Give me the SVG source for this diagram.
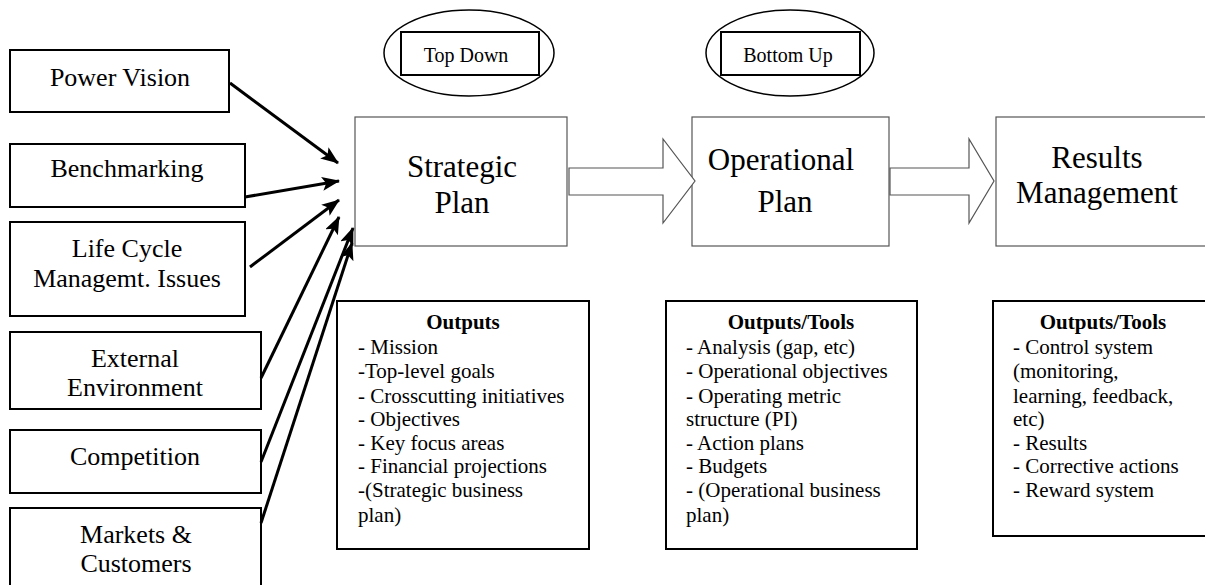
<svg xmlns="http://www.w3.org/2000/svg" width="1205" height="585" viewBox="0 0 1205 585" font-family="'Liberation Serif', Tinos, 'Times New Roman', 'DejaVu Serif', serif">
<style>
text{font-family:'Liberation Serif',Tinos,'Times New Roman','DejaVu Serif',serif;fill:#000}
.src{fill:#fff;stroke:#000;stroke-width:2}
.big{fill:#fff;stroke:#555;stroke-width:1.2}
.out{fill:#fff;stroke:#000;stroke-width:2}
.lbl{font-size:26px;text-anchor:middle}
.ttl{font-size:31px;text-anchor:middle}
.tag{font-size:20px;text-anchor:middle}
.lst{font-size:21px}
.hd{font-size:21px;font-weight:bold;text-anchor:middle}
.arr{fill:none;stroke:#000;stroke-width:3}
.blk{fill:#fff;stroke:#555;stroke-width:1.2}
</style>
<defs>
<marker id="ah" markerUnits="userSpaceOnUse" markerWidth="20" markerHeight="16" refX="17" refY="7" orient="auto">
<path d="M0,0 L18,7 L0,14 L4,7 z" fill="#000"/>
</marker>
</defs>
<rect width="1205" height="585" fill="#fff"/>

<g id="power-vision"><rect class="src" x="10" y="50" width="219" height="62"/><text class="lbl" x="120" y="86">Power Vision</text></g>
<g id="benchmarking"><rect class="src" x="10" y="144" width="235" height="63"/><text class="lbl" x="127" y="177">Benchmarking</text></g>
<g id="life-cycle"><rect class="src" x="10" y="222" width="235" height="94"/><text class="lbl" x="127" y="257">Life Cycle</text><text class="lbl" x="127" y="287">Managemt. Issues</text></g>
<g id="external-environment"><rect class="src" x="10" y="332" width="251" height="77"/><text class="lbl" x="135" y="367">External</text><text class="lbl" x="135" y="396">Environment</text></g>
<g id="competition"><rect class="src" x="10" y="430" width="251" height="63"/><text class="lbl" x="135" y="465">Competition</text></g>
<g id="markets-customers"><rect class="src" x="10" y="508" width="251" height="90"/><text class="lbl" x="136" y="543">Markets &amp;</text><text class="lbl" x="136" y="572">Customers</text></g>

<g id="top-down"><ellipse cx="469" cy="53" rx="85" ry="43" fill="#fff" stroke="#000" stroke-width="1.5"/><rect x="401" y="32" width="138" height="43" fill="#fff" stroke="#000" stroke-width="2"/><text class="tag" x="466" y="62">Top Down</text></g>
<g id="bottom-up"><ellipse cx="790" cy="53" rx="84" ry="43" fill="#fff" stroke="#000" stroke-width="1.5"/><rect x="721" y="32" width="139" height="43" fill="#fff" stroke="#000" stroke-width="2"/><text class="tag" x="788" y="62">Bottom Up</text></g>

<g id="strategic-plan"><rect class="big" x="355" y="117" width="212" height="129"/><text class="ttl" x="462" y="177">Strategic</text><text class="ttl" x="462" y="213">Plan</text></g>
<g id="operational-plan"><rect class="big" x="692" y="117" width="197" height="129"/><text class="ttl" x="781" y="170">Operational</text><text class="ttl" x="785" y="212">Plan</text></g>
<g id="results-management"><rect class="big" x="996" y="117" width="220" height="129"/><text class="ttl" x="1097" y="168">Results</text><text class="ttl" x="1097" y="203">Management</text></g>

<g id="strategic-outputs"><rect class="out" x="337" y="301" width="252" height="248"/>
<text class="hd" x="463" y="329">Outputs</text>
<text class="lst" x="358" y="354">- Mission</text>
<text class="lst" x="358" y="378">-Top-level goals</text>
<text class="lst" x="358" y="403">- Crosscutting initiatives</text>
<text class="lst" x="358" y="426">- Objectives</text>
<text class="lst" x="358" y="450">- Key focus areas</text>
<text class="lst" x="358" y="473">- Financial projections</text>
<text class="lst" x="358" y="497">-(Strategic business</text>
<text class="lst" x="358" y="522">plan)</text>
</g>
<g id="operational-outputs"><rect class="out" x="666" y="301" width="251" height="248"/>
<text class="hd" x="791" y="329">Outputs/Tools</text>
<text class="lst" x="686" y="354">- Analysis (gap, etc)</text>
<text class="lst" x="686" y="378">- Operational objectives</text>
<text class="lst" x="686" y="403">- Operating metric</text>
<text class="lst" x="686" y="426">structure (PI)</text>
<text class="lst" x="686" y="450">- Action plans</text>
<text class="lst" x="686" y="473">- Budgets</text>
<text class="lst" x="686" y="497">- (Operational business</text>
<text class="lst" x="686" y="522">plan)</text>
</g>
<g id="results-outputs"><rect class="out" x="993" y="301" width="222" height="235"/>
<text class="hd" x="1103" y="329">Outputs/Tools</text>
<text class="lst" x="1013" y="354">- Control system</text>
<text class="lst" x="1013" y="378">(monitoring,</text>
<text class="lst" x="1013" y="403">learning, feedback,</text>
<text class="lst" x="1013" y="426">etc)</text>
<text class="lst" x="1013" y="450">- Results</text>
<text class="lst" x="1013" y="473">- Corrective actions</text>
<text class="lst" x="1013" y="497">- Reward system</text>
</g>

<g id="connectors">
<line class="arr" x1="230" y1="83" x2="338" y2="163" marker-end="url(#ah)"/>
<line class="arr" x1="245" y1="197" x2="339" y2="181" marker-end="url(#ah)"/>
<line class="arr" x1="250" y1="267" x2="339" y2="200" marker-end="url(#ah)"/>
<line class="arr" x1="261" y1="378" x2="339" y2="217" marker-end="url(#ah)"/>
<line class="arr" x1="261" y1="462" x2="353" y2="228" marker-end="url(#ah)"/>
<line class="arr" x1="261" y1="523" x2="352" y2="243" marker-end="url(#ah)"/>
<polygon class="blk" points="569,168 663,168 663,139 695,181 663,223 663,195 569,195"/>
<polygon class="blk" points="890,168 969,168 969,139 994,181 969,223 969,195 890,195"/>
</g>
</svg>
